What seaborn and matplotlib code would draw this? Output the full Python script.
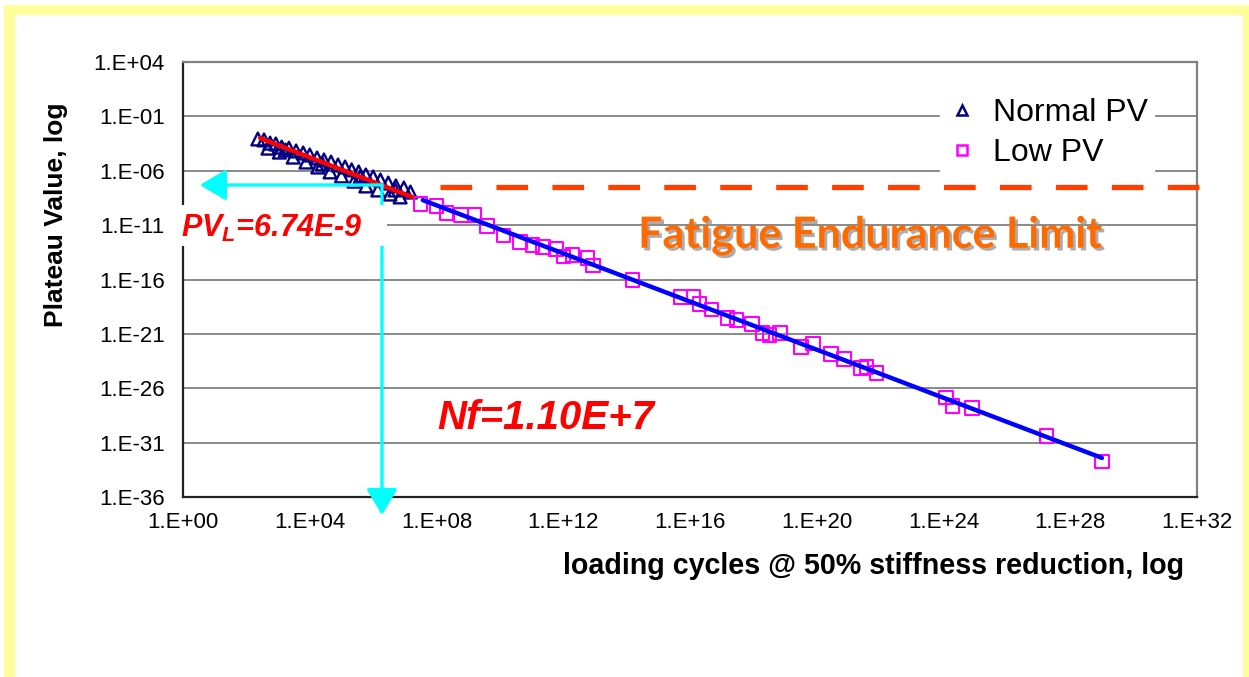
import matplotlib
matplotlib.use("Agg")
import numpy as np
import pandas as pd
import matplotlib.pyplot as plt
import matplotlib.patheffects as pe
from matplotlib.patches import Rectangle
from matplotlib.lines import Line2D
from matplotlib.ticker import FixedLocator, FixedFormatter, NullLocator
import seaborn as sns

# ---------------- data ----------------
normal_cycles = [2.3e2, 3.6e2, 5.6e2, 8.5e2, 1.3e3, 2.2e3, 3.7e3, 6.2e3, 1.0e4, 1.7e4,
                 2.8e4, 4.7e4, 7.8e4, 1.3e5, 2.1e5, 3.5e5, 5.9e5, 1.0e6, 1.7e6, 3.0e6,
                 5.2e6, 9.3e6, 1.5e7,
                 4.8e2, 1.1e3, 3.0e3, 7.6e3, 1.8e4, 4.4e4, 1.0e5, 2.5e5, 5.9e5, 1.4e6,
                 3.4e6, 7.1e6, 1.7e3, 2.5e4, 3.9e5, 4.9e6]
normal_pv = [8.3e-4, 6.8e-4, 3.5e-4, 2.9e-4, 1.5e-4, 1.2e-4, 6.6e-5, 4.3e-5, 2.8e-5, 1.5e-5,
             9.8e-6, 6.3e-6, 3.4e-6, 2.2e-6, 1.2e-6, 7.8e-7, 4.1e-7, 2.7e-7, 1.4e-7, 7.4e-8,
             4.0e-8, 2.6e-8, 1.1e-8,
             1.2e-4, 5.2e-5, 1.8e-5, 6.3e-6, 2.2e-6, 7.8e-7, 3.3e-7, 1.1e-7, 4.0e-8, 1.7e-8,
             7.2e-9, 3.9e-9, 8.1e-5, 4.2e-6, 2.7e-7, 1.7e-8]

low_cycles = [3.2e7, 1.0e8, 2.1e8, 5.9e8, 1.6e9, 3.9e9, 1.3e10, 4.3e10, 1.1e11, 2.3e11,
              5.9e11, 1.0e12, 2.0e12, 6.0e12, 8.7e12, 1.5e14, 5.1e15, 1.3e16, 2.0e16, 4.9e16,
              1.5e17, 3.0e17, 9.1e17, 1.9e18, 3.3e18, 6.9e18, 3.2e19, 7.6e19, 2.8e20, 7.2e20,
              2.5e21, 3.8e21, 7.9e21, 1.2e24, 1.9e24, 7.9e24, 1.8e27, 1.0e29]
low_pv = [8.7e-10, 5.8e-10, 1.3e-10, 8.5e-11, 8.5e-11, 8.3e-12, 1.2e-12, 2.8e-13, 1.5e-13, 9.8e-14,
          6.3e-14, 1.4e-14, 1.8e-14, 9.5e-15, 2.1e-15, 8.9e-17, 2.5e-18, 2.5e-18, 5.6e-19, 1.6e-19,
          2.9e-20, 1.9e-20, 8.1e-21, 1.2e-21, 7.9e-22, 1.2e-21, 6.2e-23, 1.2e-22, 1.4e-23, 4.9e-24,
          7.2e-25, 8.9e-25, 2.5e-25, 1.3e-27, 2.3e-28, 1.5e-28, 4.1e-31, 1.7e-33]

normal_trend_cycles = [2.7e2, 1.7e7]
normal_trend_pv = [1.0e-3, 3.9e-9]
low_trend_cycles = [3.7e7, 1.0e29]
low_trend_pv = [2.0e-9, 3.9e-33]

endurance_pv = 2.9e-8
endurance_cycles = [1.3e8, 3.0e32]
pvl_arrow_pv = 4.9e-8
nf_arrow_cycles = 1.9e6
arrow_left_cycles = 3.4e0
arrow_bottom_pv = 2.2e-38

x_ticks = [1e0, 1e4, 1e8, 1e12, 1e16, 1e20, 1e24, 1e28, 1e32]
x_tick_labels = ["1.E+00", "1.E+04", "1.E+08", "1.E+12", "1.E+16", "1.E+20", "1.E+24", "1.E+28", "1.E+32"]
y_ticks = [1e4, 1e-1, 1e-6, 1e-11, 1e-16, 1e-21, 1e-26, 1e-31, 1e-36]
y_tick_labels = ["1.E+04", "1.E-01", "1.E-06", "1.E-11", "1.E-16", "1.E-21", "1.E-26", "1.E-31", "1.E-36"]

normal_df = pd.DataFrame({"cycles": normal_cycles, "pv": normal_pv})
low_df = pd.DataFrame({"cycles": low_cycles, "pv": low_pv})
ntrend_df = pd.DataFrame({"cycles": normal_trend_cycles, "pv": normal_trend_pv})
ltrend_df = pd.DataFrame({"cycles": low_trend_cycles, "pv": low_trend_pv})

# ---------------- style ----------------
sns.set_style("white")
plt.rcParams["font.family"] = ["Liberation Sans", "DejaVu Sans"]
plt.rcParams["text.color"] = "black"
plt.rcParams["xtick.color"] = "black"
plt.rcParams["ytick.color"] = "black"
plt.rcParams["xtick.labelcolor"] = "black"
plt.rcParams["ytick.labelcolor"] = "black"
plt.rcParams["mathtext.fontset"] = "custom"
plt.rcParams["mathtext.rm"] = "Liberation Sans:bold:italic"
plt.rcParams["mathtext.it"] = "Liberation Sans:bold:italic"
plt.rcParams["mathtext.bf"] = "Liberation Sans:bold:italic"

W, H = 1249, 677
fig = plt.figure(figsize=(W / 100, H / 100), dpi=100)
fig.patch.set_facecolor("white")

def fx(px):
    return px / W

def fy(py):
    return 1 - py / H

ax = fig.add_axes([fx(183), fy(497), fx(1197) - fx(183), fy(62) - fy(497)])
ax.set_facecolor("white")
ax.set_xscale("log")
ax.set_yscale("log")
ax.set_xlim(1e0, 1e32)
ax.set_ylim(1e-36, 1e4)

# grid
for yt in y_ticks[1:-1]:
    ax.axhline(yt, color="#808080", lw=1.3, zorder=0.5)

# scatter
sns.scatterplot(data=normal_df, x="cycles", y="pv", ax=ax, marker="^", s=85,
                facecolors="none", edgecolor="#000080", linewidth=1.7, zorder=3)
sns.scatterplot(data=low_df, x="cycles", y="pv", ax=ax, marker="s", s=90,
                facecolors="none", edgecolor="#FF00FF", linewidth=1.5, zorder=3)

# trend lines
sns.lineplot(data=ntrend_df, x="cycles", y="pv", ax=ax, color="#FF0000", lw=3.2, zorder=4)
sns.lineplot(data=ltrend_df, x="cycles", y="pv", ax=ax, color="#0000FF", lw=3.2, zorder=4)

# endurance dashed line
ax.plot(endurance_cycles, [endurance_pv, endurance_pv], color="#FF3F00", lw=3.8,
        dashes=(6, 4.6), clip_on=False, zorder=4)

# cyan arrows
astyle = "-|>,head_length=1.6,head_width=0.95"
ax.annotate("", xy=(arrow_left_cycles, pvl_arrow_pv), xytext=(nf_arrow_cycles, pvl_arrow_pv),
            arrowprops=dict(arrowstyle=astyle, color="#00FFFF",
                            lw=2.4, shrinkA=0, shrinkB=0), annotation_clip=False, zorder=5)
ax.annotate("", xy=(nf_arrow_cycles, arrow_bottom_pv), xytext=(nf_arrow_cycles, pvl_arrow_pv),
            arrowprops=dict(arrowstyle=astyle, color="#00FFFF",
                            lw=2.4, shrinkA=0, shrinkB=0), annotation_clip=False, zorder=5)

# ticks
ax.xaxis.set_major_locator(FixedLocator(x_ticks))
ax.xaxis.set_major_formatter(FixedFormatter(x_tick_labels))
ax.yaxis.set_major_locator(FixedLocator(y_ticks))
ax.yaxis.set_major_formatter(FixedFormatter(y_tick_labels))
ax.xaxis.set_minor_locator(NullLocator())
ax.yaxis.set_minor_locator(NullLocator())
ax.tick_params(axis="both", direction="in", length=5, width=1, labelsize=16, color="#333333",
               labelcolor="black")
ax.tick_params(axis="x", pad=11)
ax.tick_params(axis="y", pad=13)
ax.set_xlabel("")
ax.set_ylabel("")

for side in ["left", "bottom"]:
    ax.spines[side].set_color("#222222")
    ax.spines[side].set_linewidth(1.6)
for side in ["right", "top"]:
    ax.spines[side].set_color("#808080")
    ax.spines[side].set_linewidth(1.6)

# legend
handles = [Line2D([], [], marker="^", ls="none", markersize=7.5, markerfacecolor="none",
                  markeredgecolor="#000080", markeredgewidth=1.8, label="Normal PV"),
           Line2D([], [], marker="s", ls="none", markersize=7.5, markerfacecolor="none",
                  markeredgecolor="#FF00FF", markeredgewidth=1.8, label="Low PV")]
leg = ax.legend(handles=handles, loc="upper left", bbox_to_anchor=(fx(940), fy(92)),
                bbox_transform=fig.transFigure, frameon=True, fancybox=False, framealpha=1,
                edgecolor="white", facecolor="white", fontsize=23, handlelength=1.0,
                handletextpad=0.45, borderpad=0.2, labelspacing=0.3, borderaxespad=0)
for t in leg.get_texts():
    t.set_color("black")
leg.set_zorder(3.5)

# axis labels
fig.text(fx(56), fy(215), "Plateau Value, log", rotation=90, ha="center", va="center",
         fontsize=19, fontweight="bold", color="black")
fig.text(fx(874), fy(566), "loading cycles @ 50% stiffness reduction, log", ha="center",
         va="center", fontsize=20.6, fontweight="bold", color="black")

# annotations
fig.patches.append(Rectangle((fx(178), fy(246)), fx(387) - fx(178), fy(205) - fy(246),
                             transform=fig.transFigure, facecolor="white", edgecolor="none",
                             zorder=2))
fig.text(fx(181), fy(228), r"PV$_{L}$=6.74E-9", ha="left", va="center", fontsize=22,
         fontweight="bold", style="italic", color="#FF0000", zorder=3)
fig.text(fx(546), fy(418), "Nf=1.10E+7", ha="center", va="center", fontsize=29,
         fontweight="bold", style="italic", color="#FF0000", zorder=3)
fig.text(fx(870), fy(235), "Fatigue Endurance Limit", ha="center", va="center", fontsize=31,
         fontweight="bold", family="Lato", color="#FF6A00", zorder=3,
         path_effects=[pe.withSimplePatchShadow(offset=(2, -2), shadow_rgbFace="#999999", alpha=0.8)])

# yellow frame
yel = "#FFFF99"
fig.patches.append(Rectangle((fx(4), fy(15)), fx(1249) - fx(4), fy(5) - fy(15),
                             transform=fig.transFigure, facecolor=yel, edgecolor="none", zorder=1))
fig.patches.append(Rectangle((fx(4), 0), fx(15) - fx(4), fy(5),
                             transform=fig.transFigure, facecolor=yel, edgecolor="none", zorder=1))
fig.patches.append(Rectangle((fx(1243), 0), fx(1249) - fx(1243), fy(5),
                             transform=fig.transFigure, facecolor=yel, edgecolor="none", zorder=1))

fig.savefig("out.png", dpi=100, facecolor="white")
